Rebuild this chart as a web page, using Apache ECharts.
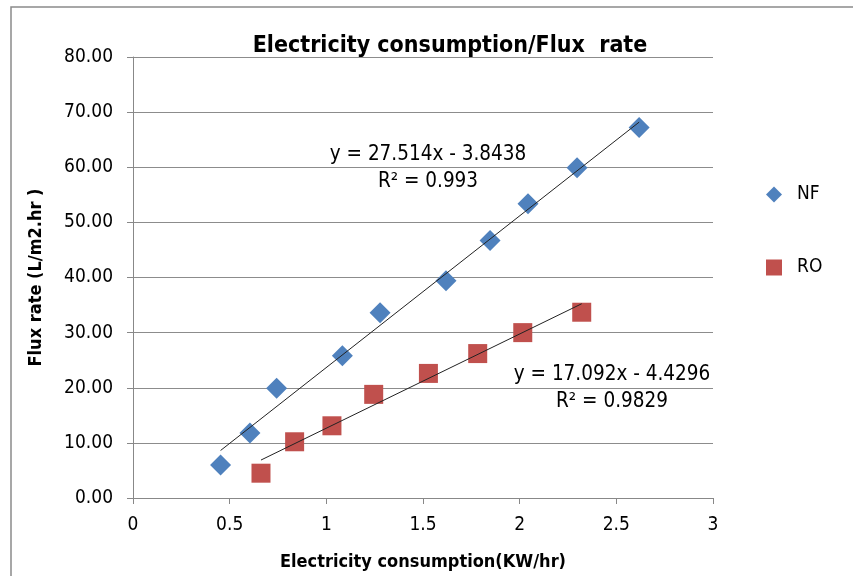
<!DOCTYPE html>
<html>
<head>
<meta charset="utf-8">
<script src="https://cdn.jsdelivr.net/npm/echarts@6/dist/echarts.min.js"></script>
<style>
  html, body { margin: 0; padding: 0; background: #fff; }
  #chart { width: 853px; height: 576px; }
</style>
</head>
<body>
<div id="chart"></div>
<script>
// Measurements: electricity consumption (KW/hr) vs flux rate (L/m2.hr)
const nfX = [0.453, 0.605, 0.743, 1.083, 1.278, 1.619, 1.847, 2.043, 2.297, 2.618];
const nfY = [6.0, 11.8, 19.9, 25.8, 33.6, 39.4, 46.7, 53.4, 59.9, 67.2];
const roX = [0.662, 0.836, 1.029, 1.245, 1.528, 1.783, 2.016, 2.321];
const roY = [4.5, 10.2, 13.1, 18.8, 22.6, 26.2, 30.0, 33.7];

// Linear trend lines (slope, intercept) and their fit quality
const nfFit = { slope: 27.514, intercept: -3.8438, r2: '0.993' };
const roFit = { slope: 17.092, intercept: -4.4296, r2: '0.9829' };

const seriesNames = ['NF', 'RO'];
const xTicks = [0, 0.5, 1, 1.5, 2, 2.5, 3];
const yTicks = [0, 10, 20, 30, 40, 50, 60, 70, 80];

const FONT = '"Liberation Sans Narrow", "DejaVu Sans Condensed", "Liberation Sans", sans-serif';

function pairs(xs, ys) { return xs.map((x, i) => [x, ys[i]]); }
function trend(xs, fit) {
  const lo = Math.min(...xs), hi = Math.max(...xs);
  return [[lo, fit.slope * lo + fit.intercept], [hi, fit.slope * hi + fit.intercept]];
}
function eqText(fit) {
  const sign = fit.intercept < 0 ? '- ' : '+ ';
  return 'y = ' + fit.slope + 'x ' + sign + Math.abs(fit.intercept);
}
function fitLabel(fit, cx, cy) {
  const style = { textAlign: 'center', textVerticalAlign: 'middle', font: '20.5px ' + FONT, fill: '#000' };
  return [
    { type: 'text', x: cx, y: cy, style: Object.assign({ text: eqText(fit) }, style) },
    { type: 'text', x: cx, y: cy + 27, style: Object.assign({ text: 'R\u00b2 = ' + fit.r2 }, style) }
  ];
}

const chart = echarts.init(document.getElementById('chart'), null, { renderer: 'canvas' });

const option = {
  backgroundColor: '#ffffff',
  animation: false,
  title: {
    text: 'Electricity consumption/Flux  rate',
    left: 445, top: 30, textAlign: 'center',
    textStyle: { fontFamily: FONT, fontWeight: 'bold', fontSize: 23, color: '#000' }
  },
  grid: { left: 133, right: 140, top: 57, bottom: 77 },
  legend: {
    orient: 'vertical',
    left: 761, top: 180,
    itemGap: 54, itemWidth: 16, itemHeight: 16,
    textStyle: { fontFamily: FONT, fontSize: 19, color: '#000', padding: [0, 0, 0, 10] },
    data: [
      { name: seriesNames[0], icon: 'diamond' },
      { name: seriesNames[1], icon: 'rect' }
    ]
  },
  xAxis: {
    type: 'value', min: xTicks[0], max: xTicks[xTicks.length - 1], interval: 0.5,
    name: 'Electricity consumption(KW/hr)', nameLocation: 'middle', nameGap: 55,
    nameTextStyle: { fontFamily: FONT, fontWeight: 'bold', fontSize: 18, color: '#000' },
    axisLine: { show: true, lineStyle: { color: '#888', width: 1 } },
    axisTick: { show: true, length: 6, lineStyle: { color: '#888' } },
    axisLabel: { fontFamily: FONT, fontSize: 19, color: '#000', margin: 18,
      formatter: v => String(v) },
    splitLine: { show: false }
  },
  yAxis: {
    type: 'value', min: yTicks[0], max: yTicks[yTicks.length - 1], interval: 10,
    name: 'Flux rate (L/m2.hr )', nameLocation: 'middle', nameGap: 88, nameRotate: 90,
    nameTextStyle: { fontFamily: FONT, fontWeight: 'bold', fontSize: 18, color: '#000' },
    axisLine: { show: true, lineStyle: { color: '#888', width: 1 } },
    axisTick: { show: true, length: 6, lineStyle: { color: '#888' } },
    axisLabel: { fontFamily: FONT, fontSize: 19, color: '#000', margin: 20,
      formatter: v => v.toFixed(2) },
    splitLine: { show: true, lineStyle: { color: '#8c8c8c', width: 1 } }
  },
  series: [
    {
      name: seriesNames[0], type: 'scatter', symbol: 'diamond', symbolSize: 21,
      itemStyle: { color: '#4F81BD', opacity: 1 },
      data: pairs(nfX, nfY), z: 3
    },
    {
      name: seriesNames[1], type: 'scatter', symbol: 'rect', symbolSize: 19,
      itemStyle: { color: '#C0504D', opacity: 1 },
      data: pairs(roX, roY), z: 3
    },
    {
      name: 'NF trend', type: 'line', symbol: 'none', silent: true,
      lineStyle: { color: '#222', width: 1 },
      data: trend(nfX, nfFit), z: 4
    },
    {
      name: 'RO trend', type: 'line', symbol: 'none', silent: true,
      lineStyle: { color: '#222', width: 1 },
      data: trend(roX, roFit), z: 4
    }
  ],
  graphic: [
    // outer chart frame
    { type: 'rect', shape: { x: 11, y: 7, width: 900, height: 620 }, silent: true,
      style: { fill: 'none', stroke: '#8a8a8a', lineWidth: 1.5 } }
  ].concat(fitLabel(nfFit, 428, 155), fitLabel(roFit, 612, 375))
};

chart.setOption(option);
</script>
</body>
</html>
